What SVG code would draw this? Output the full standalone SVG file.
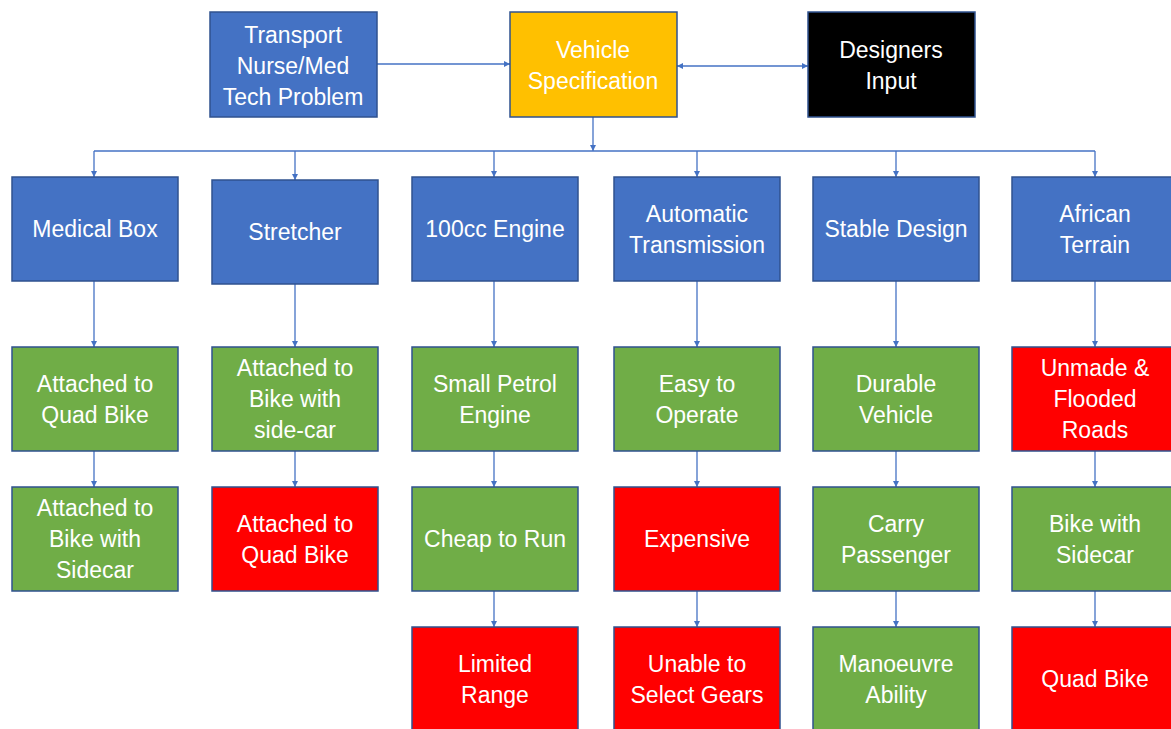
<svg xmlns="http://www.w3.org/2000/svg" width="1171" height="729" viewBox="0 0 1171 729">
<style>
.n rect{stroke:#2F528F;stroke-width:1.5}
.b{fill:#4472C4}.g{fill:#70AD47}.r{fill:#FF0000}.y{fill:#FFC000}.k{fill:#000000}
text{font-family:"Liberation Sans","Noto Sans",sans-serif;font-size:23px;fill:#FFFFFF;text-anchor:middle;dominant-baseline:central}
#connectors path{stroke:#4472C4;stroke-width:1.3;fill:none}
</style>
<defs>
<marker id="ah" viewBox="0 0 10 10" refX="10" refY="5" markerWidth="6" markerHeight="6" orient="auto-start-reverse" markerUnits="userSpaceOnUse"><path d="M0,0 L10,5 L0,10 z" fill="#4472C4"/></marker>
</defs>
<rect width="1171" height="729" fill="#FFFFFF"/>
<g id="connectors">
<path d="M377,64 H510" marker-end="url(#ah)"/>
<path d="M677,66 H808" marker-start="url(#ah)" marker-end="url(#ah)"/>
<path d="M593,117 V151" marker-end="url(#ah)"/>
<path d="M94,151 H1095"/>
<path d="M94,151 V177" marker-end="url(#ah)"/>
<path d="M295,151 V180" marker-end="url(#ah)"/>
<path d="M494,151 V177" marker-end="url(#ah)"/>
<path d="M697,151 V177" marker-end="url(#ah)"/>
<path d="M896,151 V177" marker-end="url(#ah)"/>
<path d="M1095,151 V177" marker-end="url(#ah)"/>
<path d="M94,281 V347" marker-end="url(#ah)"/>
<path d="M295,284 V347" marker-end="url(#ah)"/>
<path d="M494,281 V347" marker-end="url(#ah)"/>
<path d="M697,281 V347" marker-end="url(#ah)"/>
<path d="M896,281 V347" marker-end="url(#ah)"/>
<path d="M1095,281 V347" marker-end="url(#ah)"/>
<path d="M94,451 V487" marker-end="url(#ah)"/>
<path d="M295,451 V487" marker-end="url(#ah)"/>
<path d="M494,451 V487" marker-end="url(#ah)"/>
<path d="M697,451 V487" marker-end="url(#ah)"/>
<path d="M896,451 V487" marker-end="url(#ah)"/>
<path d="M1095,451 V487" marker-end="url(#ah)"/>
<path d="M494,591 V627" marker-end="url(#ah)"/>
<path d="M697,591 V627" marker-end="url(#ah)"/>
<path d="M896,591 V627" marker-end="url(#ah)"/>
<path d="M1095,591 V627" marker-end="url(#ah)"/>
</g>
<g id="transport" class="n"><rect class="b" x="210" y="12" width="167" height="105"/><text x="293" y="35">Transport</text><text x="293" y="66">Nurse/Med</text><text x="293" y="97">Tech Problem</text></g>
<g id="vehicle-spec" class="n"><rect class="y" x="510" y="12" width="167" height="105"/><text x="593" y="50">Vehicle</text><text x="593" y="81">Specification</text></g>
<g id="designers" class="n"><rect class="k" x="808" y="12" width="167" height="105"/><text x="891" y="50">Designers</text><text x="891" y="81">Input</text></g>

<g id="medical-box" class="n"><rect class="b" x="12" y="177" width="166" height="104"/><text x="95" y="229">Medical Box</text></g>
<g id="stretcher" class="n"><rect class="b" x="212" y="180" width="166" height="104"/><text x="295" y="232">Stretcher</text></g>
<g id="engine" class="n"><rect class="b" x="412" y="177" width="166" height="104"/><text x="495" y="229">100cc Engine</text></g>
<g id="transmission" class="n"><rect class="b" x="614" y="177" width="166" height="104"/><text x="697" y="214">Automatic</text><text x="697" y="245">Transmission</text></g>
<g id="stable" class="n"><rect class="b" x="813" y="177" width="166" height="104"/><text x="896" y="229">Stable Design</text></g>
<g id="terrain" class="n"><rect class="b" x="1012" y="177" width="166" height="104"/><text x="1095" y="214">African</text><text x="1095" y="245">Terrain</text></g>

<g id="med-quad" class="n"><rect class="g" x="12" y="347" width="166" height="104"/><text x="95" y="384">Attached to</text><text x="95" y="415">Quad Bike</text></g>
<g id="str-side" class="n"><rect class="g" x="212" y="347" width="166" height="104"/><text x="295" y="368">Attached to</text><text x="295" y="399">Bike with</text><text x="295" y="430">side-car</text></g>
<g id="petrol" class="n"><rect class="g" x="412" y="347" width="166" height="104"/><text x="495" y="384">Small Petrol</text><text x="495" y="415">Engine</text></g>
<g id="easy" class="n"><rect class="g" x="614" y="347" width="166" height="104"/><text x="697" y="384">Easy to</text><text x="697" y="415">Operate</text></g>
<g id="durable" class="n"><rect class="g" x="813" y="347" width="166" height="104"/><text x="896" y="384">Durable</text><text x="896" y="415">Vehicle</text></g>
<g id="unmade" class="n"><rect class="r" x="1012" y="347" width="166" height="104"/><text x="1095" y="368">Unmade &amp;</text><text x="1095" y="399">Flooded</text><text x="1095" y="430">Roads</text></g>

<g id="med-side" class="n"><rect class="g" x="12" y="487" width="166" height="104"/><text x="95" y="508">Attached to</text><text x="95" y="539">Bike with</text><text x="95" y="570">Sidecar</text></g>
<g id="str-quad" class="n"><rect class="r" x="212" y="487" width="166" height="104"/><text x="295" y="524">Attached to</text><text x="295" y="555">Quad Bike</text></g>
<g id="cheap" class="n"><rect class="g" x="412" y="487" width="166" height="104"/><text x="495" y="539">Cheap to Run</text></g>
<g id="expensive" class="n"><rect class="r" x="614" y="487" width="166" height="104"/><text x="697" y="539">Expensive</text></g>
<g id="passenger" class="n"><rect class="g" x="813" y="487" width="166" height="104"/><text x="896" y="524">Carry</text><text x="896" y="555">Passenger</text></g>
<g id="bike-sidecar" class="n"><rect class="g" x="1012" y="487" width="166" height="104"/><text x="1095" y="524">Bike with</text><text x="1095" y="555">Sidecar</text></g>

<g id="range" class="n"><rect class="r" x="412" y="627" width="166" height="104"/><text x="495" y="664">Limited</text><text x="495" y="695">Range</text></g>
<g id="gears" class="n"><rect class="r" x="614" y="627" width="166" height="104"/><text x="697" y="664">Unable to</text><text x="697" y="695">Select Gears</text></g>
<g id="manoeuvre" class="n"><rect class="g" x="813" y="627" width="166" height="104"/><text x="896" y="664">Manoeuvre</text><text x="896" y="695">Ability</text></g>
<g id="quad" class="n"><rect class="r" x="1012" y="627" width="166" height="104"/><text x="1095" y="679">Quad Bike</text></g>
</svg>
